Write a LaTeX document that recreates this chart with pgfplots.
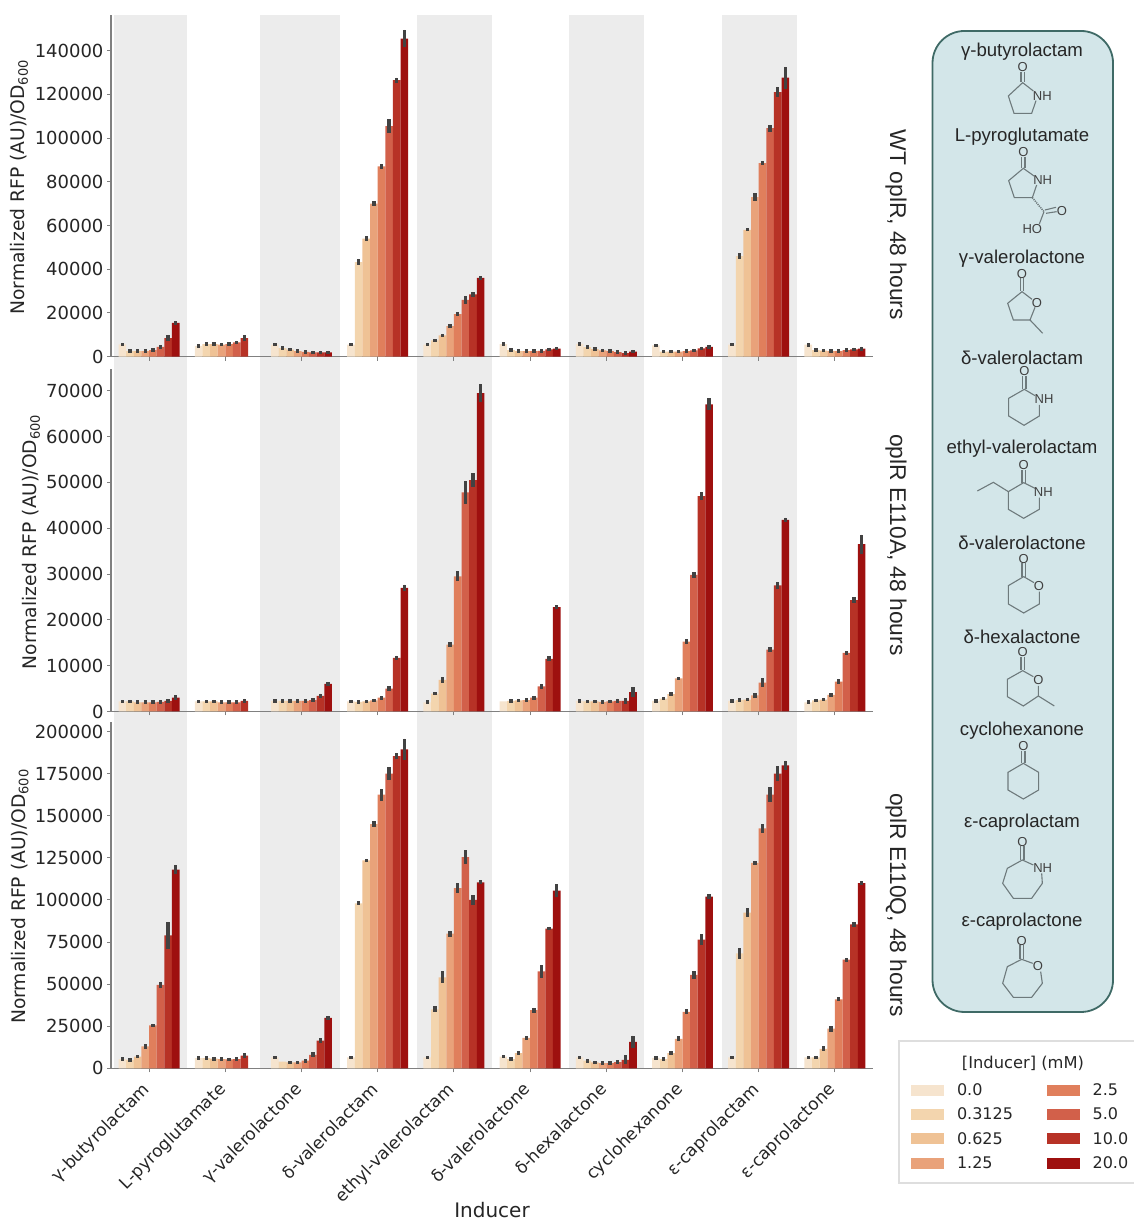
\documentclass[border=0pt]{standalone}
\usepackage{fontspec}
\usepackage{pgfplots}
\usepackage{pgfplotstable}
\pgfplotsset{compat=1.18}
\setmainfont{DejaVu Sans}
\newfontfamily\lib{Liberation Sans}
\definecolor{c0}{HTML}{F6E4CE}
\definecolor{c1}{HTML}{F3D5AE}
\definecolor{c2}{HTML}{EFC295}
\definecolor{c3}{HTML}{E9A27A}
\definecolor{c4}{HTML}{E07F5C}
\definecolor{c5}{HTML}{D2604A}
\definecolor{c6}{HTML}{B73226}
\definecolor{c7}{HTML}{9E100F}
\definecolor{errc}{HTML}{424242}
\definecolor{spine}{HTML}{808080}
\definecolor{txt}{HTML}{262626}
\definecolor{band}{HTML}{ECECEC}
\definecolor{panelfill}{HTML}{D3E6E9}
\definecolor{paneledge}{HTML}{3F6A66}
\definecolor{bond}{HTML}{6E7A7C}
\pgfplotstableread{
x y0 y1 y2 y3 y4 y5 y6 y7 e0 e1 e2 e3 e4 e5 e6 e7
0 5600 2600 2500 2500 3000 4500 8500 15500 800 800 800 800 800 800 1500 900
1 5000 5800 5700 5500 5800 6500 8500 nan 1000 800 800 800 800 800 1300 nan
2 5500 3900 3200 2500 2200 2000 2000 2000 800 800 800 800 800 800 800 800
3 5500 43300 54000 70000 87000 105500 126500 145500 800 1200 1000 1000 1200 3000 1200 4000
4 5500 7500 9800 14000 19500 26000 28500 36000 800 800 800 1000 800 1800 1200 800
5 5800 3000 2600 2500 2500 2700 3300 3700 800 800 800 800 800 800 800 800
6 5900 4400 3500 2900 2600 2100 1600 2300 800 800 800 800 800 800 800 800
7 5200 2300 2300 2300 2500 2900 3800 4500 800 800 800 800 800 800 800 900
8 5500 46000 58000 73000 88500 104500 121000 127600 800 1300 700 1800 900 1500 2400 5000
9 5500 3000 2800 2500 2500 3000 3300 3700 900 800 800 800 800 800 800 900
}\tabA
\pgfplotstableread{
x y0 y1 y2 y3 y4 y5 y6 y7 e0 e1 e2 e3 e4 e5 e6 e7
0 2200 2200 2000 2000 2000 2100 2300 3000 400 400 400 400 400 400 400 500
1 2200 2200 2200 2000 2000 2000 2300 nan 400 400 400 400 400 400 500 nan
2 2300 2300 2300 2300 2300 2500 3400 6000 400 400 400 400 400 400 500 400
3 2200 2100 2200 2400 3000 5000 11700 27000 400 400 400 400 400 500 500 700
4 2000 3900 6900 14600 29500 47800 50500 69500 400 400 600 500 1100 2600 1500 2000
5 2200 2300 2400 2500 3000 5500 11500 22800 0 400 400 400 400 500 500 400
6 2300 2200 2200 2100 2200 2300 2300 4200 400 400 400 400 400 500 600 1100
7 2300 2800 3780 7200 15270 29800 47000 67000 400 400 500 400 500 600 900 1300
8 2300 2500 2600 3500 6300 13500 27500 41800 400 400 400 500 900 500 800 500
9 2000 2400 2600 3600 6500 12800 24300 36500 400 400 400 400 500 400 600 2100
}\tabB
\pgfplotstableread{
x y0 y1 y2 y3 y4 y5 y6 y7 e0 e1 e2 e3 e4 e5 e6 e7
0 5500 5000 7000 13000 25500 49500 79000 118000 1100 1100 1100 1500 1100 2000 8000 2800
1 6000 6000 5700 5500 5300 5500 7500 nan 1100 1100 1100 1100 1100 1100 1300 nan
2 6500 4000 3500 3500 4500 8000 16500 30000 1100 0 1100 1100 1100 1400 1400 1100
3 6500 98000 123500 145000 162500 175000 185500 189500 1100 1100 1100 1900 3500 4000 1500 6300
4 6500 35000 54000 80000 107000 125500 100000 110500 1100 1800 3500 1800 3000 4000 2900 1300
5 7000 5500 9000 18000 34500 57500 83000 105500 1100 1100 1200 1100 1500 4000 1100 3700
6 6500 4500 3500 3000 3000 3700 5000 15700 1100 1100 1100 1100 1100 1100 2700 3700
7 6200 5500 9000 17500 33500 55500 76500 102000 1100 1100 1300 1400 1500 2300 3000 1500
8 6500 68300 92500 122000 142500 162500 175000 180000 1100 3200 2500 1400 2500 4500 4500 2700
9 6500 6500 11500 23500 41000 64500 85500 110000 1100 1100 1500 1700 1100 1100 1500 1100
}\tabC
\pgfplotsset{
  panel/.style={
    scale only axis, width=762pt, anchor=south west,
    axis x line*=bottom, axis y line*=left,
    axis line style={-,draw=spine,line width=1.4pt},
    xmin=-0.5, xmax=9.5, ymin=0,
    xtick={0,1,2,3,4,5,6,7,8,9},
    tick align=outside, major tick length=4pt,
    tick style={draw=spine,line width=1pt},
    scaled y ticks=false,
    ybar=0pt, bar width=7.62pt,
    tick label style={font=\fontsize{18}{21}\selectfont,text=txt},
    every axis y label/.style={rotate=90,anchor=base,text=txt,font=\fontsize{18.7}{21}\selectfont},
    ylabel={Normalized RFP (AU)/OD\raisebox{-3pt}{\fontsize{13}{15}\selectfont 600}},
  },
}
\newcommand{\series}[1]{%
  \pgfplotsinvokeforeach{0,...,7}{%
    \addplot[fill=c##1,draw=none,
      error bars/.cd,y dir=both,y explicit,error mark=none,
      error bar style={line width=3.4pt,draw=errc}] table[x=x,y=y##1,y error=e##1]{#1};
  }}
\begin{document}
\begin{tikzpicture}[x=1pt,y=1pt]
\path[use as bounding box] (0,0) rectangle (1133pt,1222pt);
% gray bands behind all panels
\begin{axis}[at={(111pt,153.7pt)},anchor=south west,scale only axis,width=762pt,height=1053.3pt,
  hide axis,xmin=-0.5,xmax=9.5,ymin=0,ymax=1]
\addplot[fill=band,draw=none] coordinates {(-0.46,0)(-0.46,1)(0.5,1)(0.5,0)} --cycle;
\addplot[fill=band,draw=none] coordinates {(1.46,0)(1.46,1)(2.5,1)(2.5,0)} --cycle;
\addplot[fill=band,draw=none] coordinates {(3.51,0)(3.51,1)(4.5,1)(4.5,0)} --cycle;
\addplot[fill=band,draw=none] coordinates {(5.51,0)(5.51,1)(6.5,1)(6.5,0)} --cycle;
\addplot[fill=band,draw=none] coordinates {(7.52,0)(7.52,1)(8.5,1)(8.5,0)} --cycle;
\end{axis}
% panel 1
\begin{axis}[panel,at={(111pt,865.3pt)},height=341.7pt,ymax=156300,
  ytick={0,20000,40000,60000,80000,100000,120000,140000},
  yticklabels={0,20000,40000,60000,80000,100000,120000,140000},
  xticklabels={},
  every axis y label/.append style={at={(axis description cs:-0.113,0.495)}}]
\series{\tabA}
\end{axis}
% panel 2
\begin{axis}[panel,at={(111pt,510.5pt)},height=342.5pt,ymax=74740,
  ytick={0,10000,20000,30000,40000,50000,60000,70000},
  yticklabels={0,10000,20000,30000,40000,50000,60000,70000},
  xticklabels={},
  every axis y label/.append style={at={(axis description cs:-0.0974,0.495)}}]
\series{\tabB}
\end{axis}
% panel 3
\begin{axis}[panel,at={(111pt,153.7pt)},height=346.6pt,ymax=205880,
  ytick={0,25000,50000,75000,100000,125000,150000,175000,200000},
  yticklabels={0,25000,50000,75000,100000,125000,150000,175000,200000},
  xticklabels={γ-butyrolactam,L-pyroglutamate,γ-valerolactone,δ-valerolactam,ethyl-valerolactam,δ-valerolactone,δ-hexalactone,cyclohexanone,ε-caprolactam,ε-caprolactone},
  x tick label style={xshift=-8pt,yshift=-6pt,rotate=45,anchor=north east,font=\fontsize{17}{20}\selectfont,inner sep=2pt},
  every axis y label/.append style={at={(axis description cs:-0.1125,0.495)}},
  xlabel={Inducer},
  every axis x label/.style={at={(axis description cs:0.5,-0.41)},anchor=center,inner sep=0pt,text=txt,font=\fontsize{20}{24}\selectfont},
  legend columns=4, transpose legend,
  legend entries={0.0,0.3125,0.625,1.25,2.5,5.0,10.0,20.0},
  legend cell align=left,
  legend image code/.code={\fill[#1,draw=none] (0pt,-5.5pt) rectangle (32.6pt,5.5pt);},
  legend style={at={(axis description cs:1.0462,-0.033)},anchor=north west,draw=none,fill=none,
    font=\fontsize{16}{20}\selectfont,text=txt,row sep=6.8pt,
    /tikz/column 1/.style={column sep=11pt},
    /tikz/column 2/.style={column sep=32pt},
    /tikz/column 3/.style={column sep=11pt}},
]
\series{\tabC}
\end{axis}
% strain titles
\node[rotate=-90,font=\lib\fontsize{22.8}{26}\selectfont,text=txt] at (896pt,997pt) {WT oplR, 48 hours};
\node[rotate=-90,font=\lib\fontsize{22.8}{26}\selectfont,text=txt] at (896pt,677pt) {oplR E110A, 48 hours};
\node[rotate=-90,font=\lib\fontsize{22.8}{26}\selectfont,text=txt] at (896pt,317pt) {oplR E110Q, 48 hours};
% legend frame and title
\draw[draw=black!13,line width=1.2pt] (1140pt,181pt) -- (899pt,181pt) -- (899pt,39pt) -- (1140pt,39pt);
\node[font=\fontsize{16.3}{19}\selectfont,text=txt] at (1023pt,159pt) {[Inducer] (mM)};
% structure panel
\draw[fill=panelfill,draw=paneledge,line width=1.8pt,rounded corners=32pt] (932.5pt,210pt) rectangle (1113pt,1191pt);
\begin{scope}[font=\lib\fontsize{18.6}{21}\selectfont,text=txt]
\node at (1022pt,1170.5pt) {γ-butyrolactam};
\node at (1022pt,1085.5pt) {L-pyroglutamate};
\node at (1022pt,963.5pt) {γ-valerolactone};
\node at (1022pt,864.5pt) {δ-valerolactam};
\node at (1022pt,773.5pt) {ethyl-valerolactam};
\node at (1022pt,679.5pt) {δ-valerolactone};
\node at (1022pt,585.5pt) {δ-hexalactone};
\node at (1022pt,491.5pt) {cyclohexanone};
\node at (1022pt,399.5pt) {ε-caprolactam};
\node at (1022pt,300.5pt) {ε-caprolactone};
\end{scope}
\tikzset{atm/.style={font=\lib\fontsize{13}{15}\selectfont,text=black!75,inner sep=0pt},bd/.style={draw=bond,line width=1.1pt}}
% structures, zoom crop 1
\begin{scope}[shift={(920pt,1202pt)},x={(0.33333pt,0pt)},y={(0pt,-0.33333pt)}]
\node[atm] at (308,141) {O}; \node[atm] at (367,228) {NH};
\draw[bd] (303,155)--(303,187) (313,155)--(313,187);
\draw[bd] (340,213)--(308,188)--(265,228)--(282,280)--(335,280)--(348,242);
\node[atm] at (310,395) {O}; \node[atm] at (368,481) {NH};
\draw[bd] (305,410)--(305,445) (315,410)--(315,445);
\draw[bd] (342,468)--(310,445)--(266,482)--(283,533)--(337,533)--(350,495);
\draw[bd,densely dotted,line width=1.6pt] (337,533)--(372,575);
\draw[bd] (375,570)--(408,562) (378,580)--(410,575) (372,575)--(358,612);
\node[atm] at (426,573) {O}; \node[atm] at (337,627) {HO};
\node[atm] at (306,761) {O}; \node[atm] at (351,849) {O};
\draw[bd] (301,775)--(301,813) (311,775)--(311,813);
\draw[bd] (336,838)--(306,815)--(263,850)--(280,900)--(330,900)--(345,862) (330,900)--(368,940);
\end{scope}
% zoom crop 2
\begin{scope}[shift={(920pt,872pt)},x={(0.33333pt,0pt)},y={(0pt,-0.33333pt)}]
\node[atm] at (313,64) {O}; \node[atm] at (372,147) {NH};
\draw[bd] (308,78)--(308,116) (318,78)--(318,116);
\draw[bd] (345,137)--(313,118)--(266,145)--(266,198)--(312,226)--(358,198)--(358,165);
\node[atm] at (311,345) {O}; \node[atm] at (370,426) {NH};
\draw[bd] (306,360)--(306,398) (316,360)--(316,398);
\draw[bd] (345,415)--(311,398)--(265,425)--(265,478)--(311,505)--(358,478)--(358,443);
\draw[bd] (265,425)--(220,397)--(172,423);
\node[atm] at (311,626) {O}; \node[atm] at (357,708) {O};
\draw[bd] (306,640)--(306,680) (316,640)--(316,680);
\draw[bd] (342,698)--(311,680)--(265,707)--(265,762)--(311,789)--(358,762)--(358,725);
\node[atm] at (308,906) {O}; \node[atm] at (355,989) {O};
\draw[bd] (303,920)--(303,960) (313,920)--(313,960);
\draw[bd] (340,980)--(308,962)--(262,988)--(262,1040)--(310,1068)--(355,1038)--(355,1008) (355,1038)--(403,1068);
\end{scope}
% zoom crop 3
\begin{scope}[shift={(920pt,542pt)},x={(0.33333pt,0pt)},y={(0pt,-0.33333pt)}]
\node[atm] at (310,197) {O};
\draw[bd] (305,212)--(305,250) (315,212)--(315,250);
\draw[bd] (310,250)--(356,277)--(356,330)--(310,357)--(264,330)--(264,277)--cycle;
\node[atm] at (307,485) {O}; \node[atm] at (368,563) {NH};
\draw[bd] (302,498)--(302,540) (312,498)--(312,540);
\draw[bd] (340,555)--(307,540)--(262,565)--(248,610)--(280,655)--(335,655)--(367,610)--(365,580);
\node[atm] at (305,782) {O}; \node[atm] at (354,858) {O};
\draw[bd] (300,795)--(300,838) (310,795)--(310,838);
\draw[bd] (338,850)--(305,838)--(262,860)--(248,910)--(280,952)--(335,952)--(367,910)--(362,875);
\end{scope}
\end{tikzpicture}
\end{document}
